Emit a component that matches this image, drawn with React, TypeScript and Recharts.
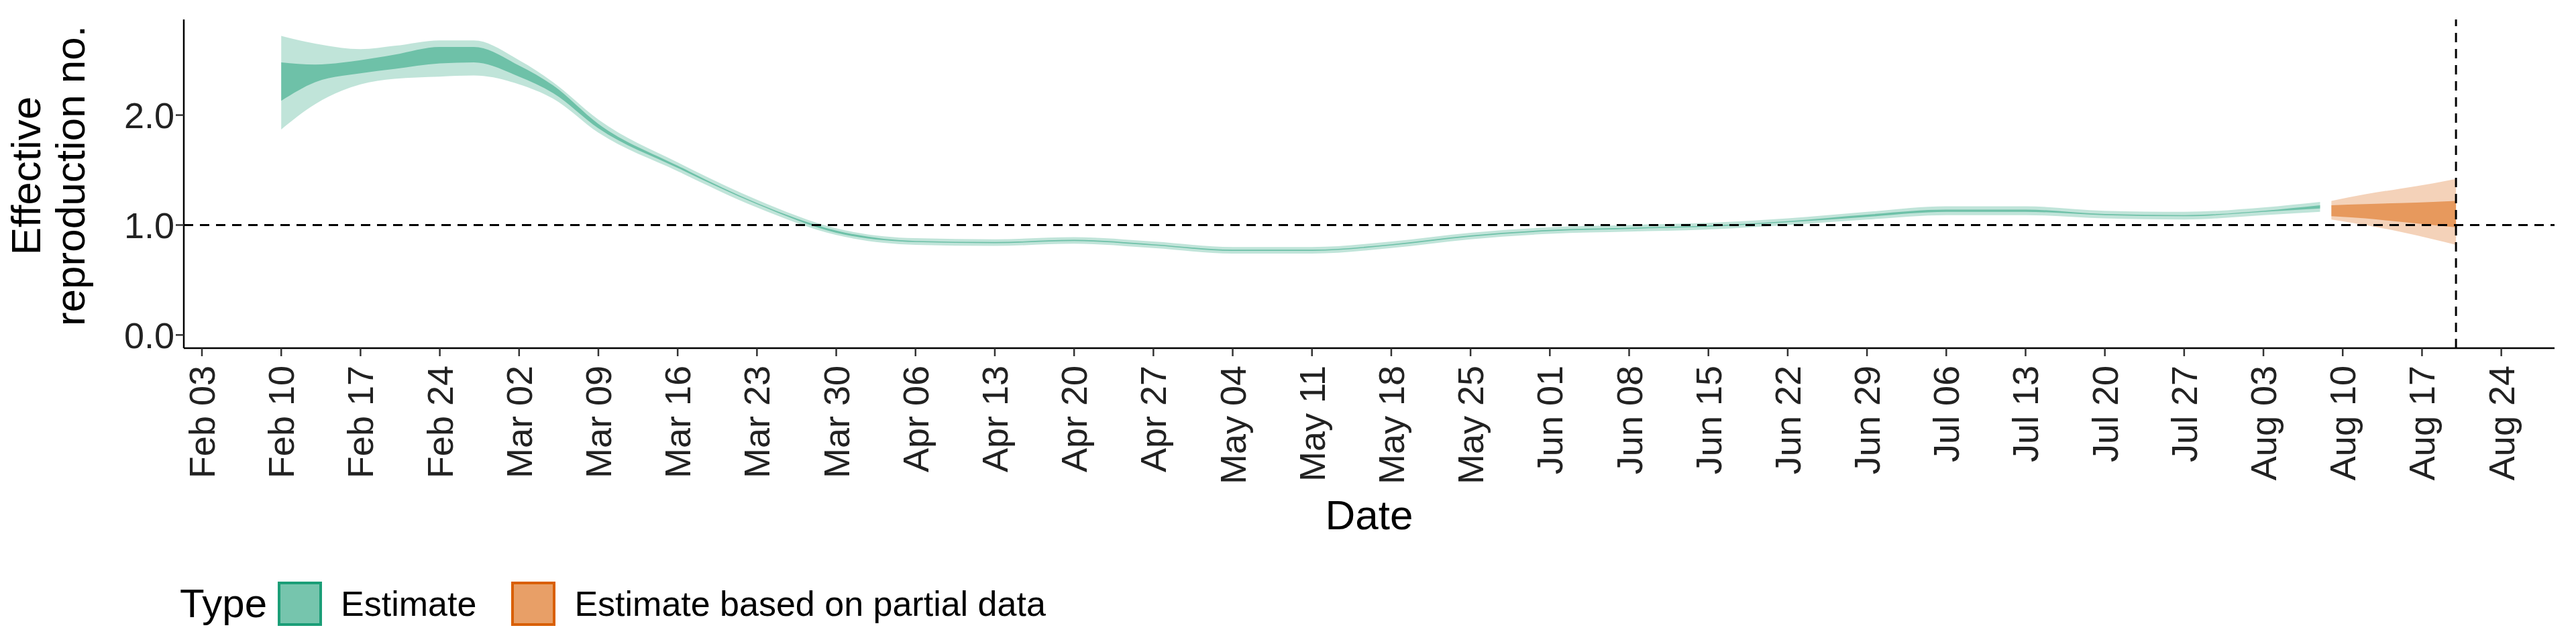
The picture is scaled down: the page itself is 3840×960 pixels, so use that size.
import { useEffect } from "react";
import {
  ComposedChart,
  Area,
  XAxis,
  YAxis,
  ReferenceLine,
} from "recharts";

// days counted from Feb 03
const estDays = [7, 10, 14, 17, 21, 24, 28, 31, 35, 42, 49, 56, 63, 70, 77, 84, 91, 98, 105, 112, 119, 126, 133, 140, 147, 154, 161, 168, 175, 182, 187];
const est90Low = [1.87, 2.1, 2.28, 2.33, 2.35, 2.36, 2.28, 2.15, 1.84, 1.49, 1.16, 0.91, 0.82, 0.81, 0.83, 0.79, 0.74, 0.74, 0.79, 0.87, 0.92, 0.94, 0.96, 1.0, 1.05, 1.09, 1.09, 1.06, 1.05, 1.09, 1.12];
const est90High = [2.72, 2.65, 2.6, 2.63, 2.68, 2.68, 2.5, 2.3, 1.96, 1.57, 1.23, 0.97, 0.88, 0.87, 0.89, 0.85, 0.8, 0.8, 0.85, 0.93, 0.98, 1.0, 1.02, 1.06, 1.12, 1.17, 1.17, 1.13, 1.12, 1.16, 1.21];
const est50Low = [2.13, 2.3, 2.38, 2.42, 2.47, 2.48, 2.35, 2.2, 1.88, 1.52, 1.19, 0.93, 0.845, 0.835, 0.855, 0.815, 0.765, 0.765, 0.815, 0.895, 0.945, 0.965, 0.985, 1.025, 1.075, 1.12, 1.12, 1.09, 1.08, 1.12, 1.15];
const est50High = [2.48, 2.46, 2.5, 2.55, 2.62, 2.62, 2.45, 2.27, 1.92, 1.54, 1.2, 0.95, 0.855, 0.845, 0.865, 0.825, 0.775, 0.775, 0.825, 0.905, 0.955, 0.975, 0.995, 1.035, 1.095, 1.14, 1.14, 1.1, 1.09, 1.13, 1.18];

const partDays = [188, 191, 194, 197, 199];
const part90Low = [1.05, 1.0, 0.94, 0.87, 0.82];
const part90High = [1.22, 1.28, 1.33, 1.38, 1.42];
const part50Low = [1.08, 1.06, 1.03, 1.0, 0.98];
const part50High = [1.18, 1.19, 1.2, 1.21, 1.22];

const tickDays = [0, 7, 14, 21, 28, 35, 42, 49, 56, 63, 70, 77, 84, 91, 98, 105, 112, 119, 126, 133, 140, 147, 154, 161, 168, 175, 182, 189, 196, 203];
const tickLabels = ["Feb 03", "Feb 10", "Feb 17", "Feb 24", "Mar 02", "Mar 09", "Mar 16", "Mar 23", "Mar 30", "Apr 06", "Apr 13", "Apr 20", "Apr 27", "May 04", "May 11", "May 18", "May 25", "Jun 01", "Jun 08", "Jun 15", "Jun 22", "Jun 29", "Jul 06", "Jul 13", "Jul 20", "Jul 27", "Aug 03", "Aug 10", "Aug 17", "Aug 24"];

const cutoffDay = 199;

const GREEN = "#1B9E77";
const ORANGE = "#D95F02";
const FONT = "'Liberation Sans', Arial, sans-serif";

const rows: any[] = [];
estDays.forEach((d, i) =>
  rows.push({ day: d, g90: [est90Low[i], est90High[i]], g50: [est50Low[i], est50High[i]] })
);
partDays.forEach((d, i) =>
  rows.push({ day: d, o90: [part90Low[i], part90High[i]], o50: [part50Low[i], part50High[i]] })
);

const DateTick = (props: any) => {
  const { x, y, payload } = props;
  const idx = tickDays.indexOf(payload.value);
  return (
    <text
      x={x}
      y={y + 12}
      transform={`rotate(-90 ${x} ${y + 12})`}
      textAnchor="end"
      dominantBaseline="central"
      fill="#222"
      fontSize={54}
      fontFamily={FONT}
    >
      {tickLabels[idx]}
    </text>
  );
};

const YTitle = () => (
  <text
    transform="translate(72 262) rotate(-90)"
    textAnchor="middle"
    fontSize={62}
    fontFamily={FONT}
    fill="#000"
  >
    <tspan x={0} dy={-12}>Effective</tspan>
    <tspan x={0} dy={66}>reproduction no.</tspan>
  </text>
);

const Swatch = ({ color }: { color: string }) => (
  <span
    style={{
      display: "inline-block",
      width: 66,
      height: 66,
      boxSizing: "border-box",
      background: color + "99",
      border: `4px solid ${color}`,
      margin: "0 28px 0 16px",
    }}
  />
);

export default function App() {
  useEffect(() => {
    document.body.style.margin = "0";
  }, []);
  return (
    <div style={{ position: "relative", width: 3840, height: 960, background: "#fff", fontFamily: FONT }}>
      <ComposedChart
        width={3840}
        height={960}
        data={rows}
        margin={{ top: 29, right: 32, left: 0, bottom: 171 }}
      >
        <XAxis
          type="number"
          dataKey="day"
          domain={[-1.6, 207.7]}
          ticks={tickDays}
          tick={<DateTick />}
          tickLine={{ stroke: "#333", strokeWidth: 2.5 }}
          tickSize={12}
          axisLine={{ stroke: "#000", strokeWidth: 2.5 }}
          height={270}
          label={{ value: "Date", position: "insideBottom", offset: 0, fontSize: 62, fill: "#000", fontFamily: FONT }}
        />
        <YAxis
          type="number"
          domain={[-0.12, 2.87]}
          ticks={[0, 1, 2]}
          tickFormatter={(v: number) => v.toFixed(1)}
          tick={{ fontSize: 54, fill: "#222", fontFamily: FONT }}
          tickLine={{ stroke: "#333", strokeWidth: 2.5 }}
          tickSize={12}
          axisLine={{ stroke: "#000", strokeWidth: 2.5 }}
          width={274}
          label={<YTitle />}
        />
        <Area dataKey="g90" type="monotone" stroke="none" fill={GREEN} fillOpacity={0.28} isAnimationActive={false} />
        <Area dataKey="g50" type="monotone" stroke="none" fill={GREEN} fillOpacity={0.5} isAnimationActive={false} />
        <Area dataKey="o90" type="monotone" stroke="none" fill={ORANGE} fillOpacity={0.28} isAnimationActive={false} />
        <Area dataKey="o50" type="monotone" stroke="none" fill={ORANGE} fillOpacity={0.5} isAnimationActive={false} />
        <ReferenceLine y={1} stroke="#000" strokeWidth={3} strokeDasharray="14 10" />
        <ReferenceLine x={cutoffDay} stroke="#000" strokeWidth={3} strokeDasharray="14 10" />
      </ComposedChart>
      <div
        style={{
          position: "absolute",
          left: 268,
          top: 865,
          display: "flex",
          alignItems: "center",
          fontSize: 52,
          color: "#000",
        }}
      >
        <span style={{ fontSize: 60 }}>Type</span>
        <Swatch color={GREEN} />
        <span style={{ marginRight: 36 }}>Estimate</span>
        <Swatch color={ORANGE} />
        <span>Estimate based on partial data</span>
      </div>
    </div>
  );
}
